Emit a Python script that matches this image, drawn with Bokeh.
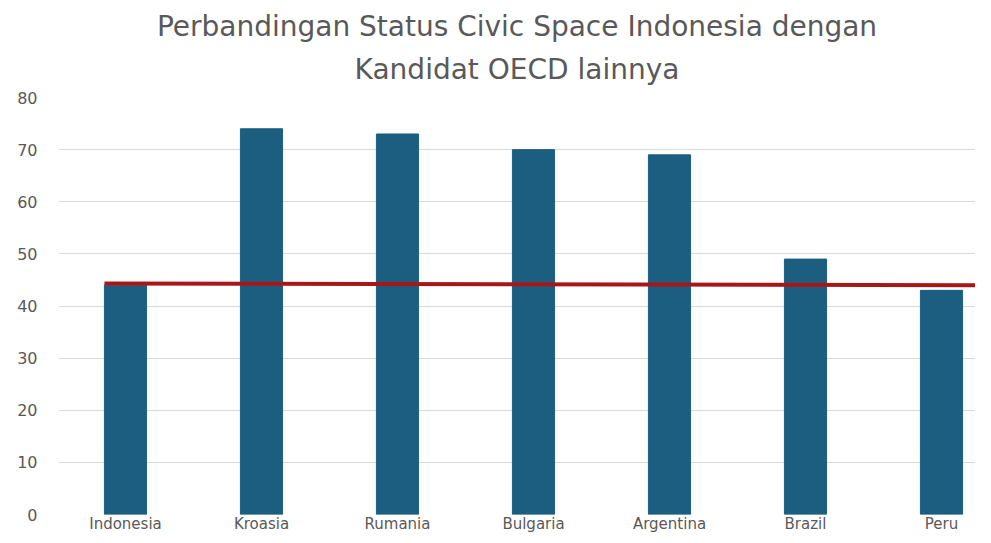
from bokeh.plotting import figure
from bokeh.models import Range1d, Title, FixedTicker, ColumnDataSource
from bokeh.embed import file_html
from bokeh.resources import INLINE

# ---- data ----
countries = ["Indonesia", "Kroasia", "Rumania", "Bulgaria", "Argentina", "Brazil", "Peru"]
scores = [44, 74, 73, 70, 69, 49, 43]
y_ticks = [0, 10, 20, 30, 40, 50, 60, 70, 80]
# reference line (Indonesia level), drawn from the first bar to the right edge
ref_line_x = [-0.155, 6.25]
ref_line_y = [44.3, 44.0]
title_lines = ["Perbandingan Status Civic Space Indonesia dengan", "Kandidat OECD lainnya"]

BAR = "#1b5e7f"
RED = "#a81717"
TXT = "#595959"
FONT = "DejaVu Sans"

xs = list(range(len(countries)))
src = ColumnDataSource(dict(x=xs, top=scores))

p = figure(width=975, height=535, output_backend="svg", toolbar_location=None,
           x_range=Range1d(-0.4926, 6.25), y_range=Range1d(0, 80),
           min_border_left=58, min_border_right=0, min_border_bottom=0,
           min_border_top=97)
p.outline_line_color = None
p.background_fill_color = "white"
p.border_fill_color = "white"

p.vbar(x="x", top="top", width=0.31, bottom=0, source=src, color=BAR)
p.line(ref_line_x, ref_line_y, line_color=RED, line_width=4)

# axes
p.xaxis.ticker = FixedTicker(ticks=xs)
p.xaxis.major_label_overrides = {i: c for i, c in enumerate(countries)}
p.yaxis.ticker = FixedTicker(ticks=y_ticks)
for ax in (p.xaxis[0], p.yaxis[0]):
    ax.axis_line_color = None
    ax.major_tick_line_color = None
    ax.minor_tick_line_color = None
    ax.major_tick_out = 0
    ax.major_tick_in = 0
    ax.minor_tick_out = 0
    ax.major_label_text_color = TXT
    ax.major_label_text_font = FONT
p.xaxis.major_label_text_font_size = "15px"
p.xaxis.major_label_standoff = 0
p.yaxis.major_label_text_font_size = "16px"
p.yaxis.major_label_standoff = 21

p.xgrid.grid_line_color = None
p.ygrid.grid_line_color = "#d9d9d9"
p.ygrid.grid_line_width = 1

# title, two centred lines (second line added first so it sits nearer the plot)
for line_text, so in [(title_lines[1], 23), (title_lines[0], -7)]:
    p.add_layout(Title(text=line_text, align="center", text_font=FONT,
                       text_font_size="28px", text_font_style="normal",
                       text_color=TXT, standoff=so), "above")

open("out.html", "w").write(file_html(p, INLINE))
